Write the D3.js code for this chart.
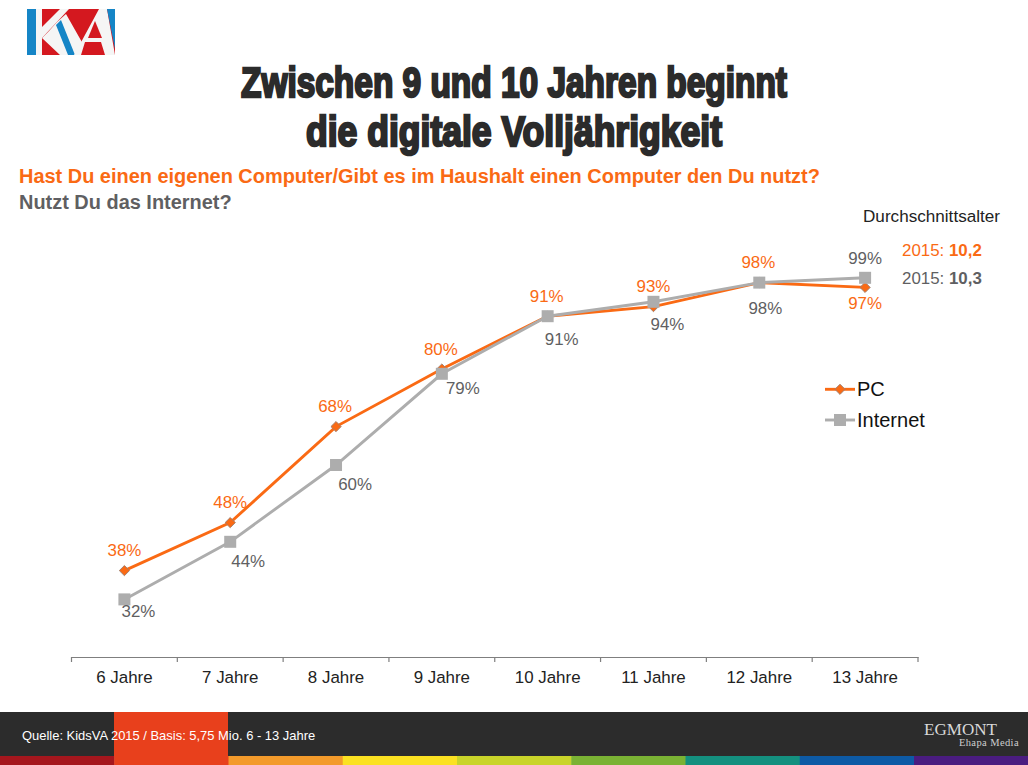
<!DOCTYPE html>
<html><head><meta charset="utf-8">
<style>html,body{margin:0;padding:0;background:#fff;overflow:hidden}svg{display:block}text{font-family:"Liberation Sans",Arial,sans-serif}</style>
<script src="https://cdn.jsdelivr.net/npm/d3@7"></script></head><body>
<script>
const categories=["6 Jahre","7 Jahre","8 Jahre","9 Jahre","10 Jahre","11 Jahre","12 Jahre","13 Jahre"];
const pcValues=[38,48,68,80,91,93,98,97];
const internetValues=[32,44,60,79,91,94,98,99];
const pcLabelOffsets=[[0,-15],[0,-14.5],[-1,-15],[-1,-14.5],[-1,-14.5],[0,-15],[-1,-15],[0,21.5]];
const internetLabelOffsets=[[14,18],[18,25],[19,25],[21,20],[14,29],[14,28],[6,31],[0,-14]];
const gradientStops=["#a5161d","#e8401c","#f39a2b","#fbe122","#c9d42a","#7ab234","#14907f","#0d5aa5","#4a1c80"];
const ORANGE="#fa6a14",GREY="#adadad",TEXTGREY="#5f5f62";

const svg=d3.select("body").append("svg").attr("width",1028).attr("height",765);
svg.append("rect").attr("width",1028).attr("height",765).attr("fill","#fff");

// logo
const logo=svg.append("g").attr("transform","translate(27,9)");
const RED="#d4181f",BLUE="#1585c6",WHITE="#f5f5f5";
const poly=(p,f)=>logo.append("polygon").attr("points",p).attr("fill",f);
logo.append("rect").attr("width",88).attr("height",46).attr("fill",RED);
poly("0,0 9,0 9,46 0,46",BLUE);
poly("9,0 15,0 15,46 9,46",WHITE);
poly("15,18 33,0 42,0 15,29",WHITE);
poly("15,29 22,22 30,13 39,5 56,35 52,46 33,46",WHITE);
poly("29,16 34,11 48,46 41,46",BLUE);
poly("52,37 72,0 80,0 88,46 78,46 74,33 58,33 54,46 47,46",WHITE);
poly("68,12 61,29 75,29",RED);
poly("80,0 88,0 88,40",BLUE);

// title
const titleAttrs=t=>t.attr("text-anchor","middle").attr("fill","#2b2b2b").attr("stroke","#2b2b2b").attr("stroke-width",2.4).attr("stroke-linejoin","miter")
  .style("font-family",'"Liberation Sans Narrow","Liberation Sans",sans-serif').style("font-weight",700).style("font-size","42px");
svg.append("text").attr("x",514).attr("y",97).text("Zwischen 9 und 10 Jahren beginnt").call(titleAttrs).attr("textLength",546).attr("lengthAdjust","spacingAndGlyphs");
svg.append("text").attr("x",514).attr("y",146).text("die digitale Volljährigkeit").call(titleAttrs).attr("textLength",416).attr("lengthAdjust","spacingAndGlyphs");

// subtitles
svg.append("text").attr("x",19).attr("y",182.5).attr("fill",ORANGE).style("font-size","19.95px").style("font-weight",700).text("Hast Du einen eigenen Computer/Gibt es im Haushalt einen Computer den Du nutzt?");
svg.append("text").attr("x",19).attr("y",209).attr("fill",TEXTGREY).style("font-size","19.95px").style("font-weight",700).text("Nutzt Du das Internet?");

// scales
const x=d3.scaleBand().domain(categories).range([71.5,918]);
const y=d3.scaleLinear().domain([20,100]).range([657,273]);
const cx=c=>x(c)+x.bandwidth()/2;

// axis
const axis=d3.axisBottom(x).tickSize(0).tickPadding(13.6);
const ax=svg.append("g").attr("transform","translate(0,657)").call(axis);
ax.select(".domain").attr("stroke","#7f7f7f").attr("stroke-width",1.2);
ax.selectAll("text").attr("fill","#222").style("font-size","16.9px").style("font-family",'"Liberation Sans",sans-serif');
svg.append("g").selectAll("line").data(d3.range(categories.length+1)).join("line")
  .attr("x1",i=>71.5+i*x.step()).attr("x2",i=>71.5+i*x.step())
  .attr("y1",657).attr("y2",662).attr("stroke","#7f7f7f").attr("stroke-width",1.2);

// lines
const line=vals=>d3.line().x((d,i)=>cx(categories[i])).y(d=>y(d))(vals);
svg.append("path").attr("d",line(pcValues)).attr("fill","none").attr("stroke",ORANGE).attr("stroke-width",2.9);
svg.append("path").attr("d",line(internetValues)).attr("fill","none").attr("stroke",GREY).attr("stroke-width",2.9);

const diamond=d3.symbol().type(d3.symbolSquare).size(52)();
const drawDiamond=(s,px,py)=>s.append("path").attr("d",diamond).attr("transform",`translate(${px},${py}) rotate(45)`).attr("fill",ORANGE).attr("stroke","#a08070").attr("stroke-width",.9);
const drawSquare=(s,px,py)=>s.append("rect").attr("x",px-6).attr("y",py-6).attr("width",12).attr("height",12).attr("fill",GREY);

pcValues.forEach((v,i)=>drawDiamond(svg,cx(categories[i]),y(v)));
internetValues.forEach((v,i)=>drawSquare(svg,cx(categories[i]),y(v)));

// value labels
const lab=(vals,offs,col)=>svg.append("g").selectAll("text").data(vals).join("text")
  .attr("x",(d,i)=>cx(categories[i])+offs[i][0]).attr("y",(d,i)=>y(d)+offs[i][1])
  .attr("text-anchor","middle").attr("fill",col).style("font-size","16.9px").text(d=>d+"%");
lab(pcValues,pcLabelOffsets,ORANGE);
lab(internetValues,internetLabelOffsets,TEXTGREY);

// legend
const lg=svg.append("g");
lg.append("line").attr("x1",825).attr("x2",855).attr("y1",389.3).attr("y2",389.3).attr("stroke",ORANGE).attr("stroke-width",2.9);
drawDiamond(lg,840,389.3);
lg.append("line").attr("x1",825).attr("x2",855).attr("y1",420).attr("y2",420).attr("stroke",GREY).attr("stroke-width",2.9);
drawSquare(lg,840,420);
lg.append("text").attr("x",857).attr("y",395.7).attr("fill","#111").style("font-size","20px").text("PC");
lg.append("text").attr("x",857).attr("y",426.7).attr("fill","#111").style("font-size","20px").text("Internet");

// average age
svg.append("text").attr("x",863).attr("y",222).attr("fill","#222").style("font-size","17.1px").text("Durchschnittsalter").attr("textLength",137);
const age1=svg.append("text").attr("x",902).attr("y",255.5).attr("fill",ORANGE).style("font-size","16.9px");
age1.append("tspan").text("2015: ");age1.append("tspan").style("font-weight",700).text("10,2");
const age2=svg.append("text").attr("x",902).attr("y",283.5).attr("fill",TEXTGREY).style("font-size","16.9px");
age2.append("tspan").text("2015: ");age2.append("tspan").style("font-weight",700).text("10,3");

// footer
svg.append("rect").attr("x",0).attr("y",712).attr("width",1028).attr("height",44).attr("fill","#2c2c2c");
const stripW=114.25;
svg.append("g").selectAll("rect").data(gradientStops).join("rect")
  .attr("x",(d,i)=>i*stripW).attr("y",756).attr("width",stripW+.5).attr("height",9).attr("fill",d=>d);
svg.append("rect").attr("x",114).attr("y",712).attr("width",114).attr("height",44).attr("fill","#e8401c");
svg.append("text").attr("x",22).attr("y",740).attr("fill","#fff").style("font-size","12.95px").text("Quelle: KidsVA 2015 / Basis: 5,75 Mio. 6 - 13 Jahre");
svg.append("text").attr("x",924).attr("y",735).attr("fill","#d8d8d8").style("font-family",'"Liberation Serif",serif').style("font-size","16.5px").attr("textLength",73).attr("lengthAdjust","spacingAndGlyphs").text("EGMONT");
svg.append("text").attr("x",1019).attr("y",746).attr("text-anchor","end").attr("fill","#cfcfcf").style("font-family",'"Liberation Serif",serif').style("font-size","10.5px").style("letter-spacing",".4px").text("Ehapa Media");
</script></body></html>
